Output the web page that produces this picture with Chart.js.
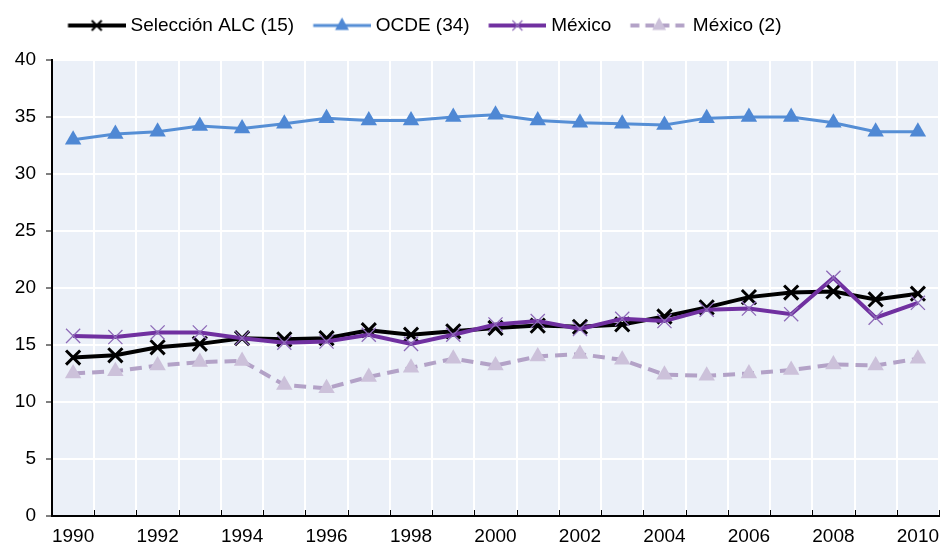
<!DOCTYPE html>
<html><head><meta charset="utf-8">
<script src="https://cdn.jsdelivr.net/npm/chart.js@4/dist/chart.umd.min.js"></script>
<style>html,body{margin:0;padding:0;background:#fff}</style>
</head><body>
<canvas id="c" width="941" height="546"></canvas>
<script>
const years = ['1990','1991','1992','1993','1994','1995','1996','1997','1998','1999','2000','2001','2002','2003','2004','2005','2006','2007','2008','2009','2010'];
const seleccionALC = [13.9,14.1,14.8,15.1,15.6,15.5,15.6,16.3,15.9,16.2,16.5,16.7,16.6,16.8,17.5,18.3,19.2,19.6,19.7,19.0,19.5];
const ocde = [33.0,33.5,33.7,34.2,34.0,34.4,34.9,34.7,34.7,35.0,35.2,34.7,34.5,34.4,34.3,34.9,35.0,35.0,34.5,33.7,33.7];
const mexico = [15.8,15.7,16.1,16.1,15.6,15.2,15.3,15.9,15.1,15.9,16.8,17.1,16.4,17.3,17.1,18.1,18.2,17.7,20.9,17.4,18.7];
const mexico2 = [12.5,12.7,13.2,13.5,13.6,11.5,11.2,12.2,13.0,13.8,13.2,14.0,14.2,13.7,12.4,12.3,12.5,12.8,13.3,13.2,13.8];
const yTicks = [0,5,10,15,20,25,30,35,40];
const seriesNames = ['Selección ALC (15)','OCDE (34)','México','México (2)'];

const FONT = "'Liberation Sans', Arial, sans-serif";

function legendIcon(lineColor, lineWidth, dash, marker, markerColor, markerBorder) {
  const cv = document.createElement('canvas');
  cv.width = 67; cv.height = 18;
  const ctx = cv.getContext('2d');
  const y = 9;
  ctx.strokeStyle = lineColor; ctx.lineWidth = lineWidth; ctx.setLineDash(dash);
  ctx.beginPath(); ctx.moveTo(9.5, y); ctx.lineTo(67, y); ctx.stroke();
  ctx.setLineDash([]);
  const cx = 38.25;
  if (marker === 'x') {
    const r = 5;
    ctx.strokeStyle = markerColor; ctx.lineWidth = markerBorder;
    ctx.beginPath();
    ctx.moveTo(cx - r, y - r); ctx.lineTo(cx + r, y + r);
    ctx.moveTo(cx + r, y - r); ctx.lineTo(cx - r, y + r);
    ctx.stroke();
  } else {
    const r = 8;
    ctx.fillStyle = markerColor;
    ctx.beginPath();
    ctx.moveTo(cx, y - r);
    ctx.lineTo(cx + r * 0.866, y + r * 0.5 + 0.5);
    ctx.lineTo(cx - r * 0.866, y + r * 0.5 + 0.5);
    ctx.closePath(); ctx.fill();
  }
  return cv;
}

const icons = [
  legendIcon('#000000', 4, [], 'x', '#000000', 2),
  legendIcon('#558ED5', 3, [], 'tri', '#4F88D4', 0),
  legendIcon('#7030A0', 4, [], 'x', '#8E6BB8', 1.2),
  legendIcon('#B3A2C7', 4, [9, 6], 'tri', '#CCC1DA', 0)
];

const bgPlugin = {
  id: 'bg',
  beforeDraw(chart) {
    const a = chart.chartArea, ctx = chart.ctx;
    ctx.save(); ctx.fillStyle = '#EBF0F8';
    ctx.fillRect(a.left, a.top, a.right - a.left, a.bottom - a.top);
    ctx.restore();
  },
  afterLayout(chart) {
    const lg = chart.legend;
    if (lg) { lg.left = 49; }
  },
  afterDraw(chart) {
    const xs = chart.scales.x, ctx = chart.ctx;
    const step = xs.getPixelForTick(1) - xs.getPixelForTick(0);
    ctx.save(); ctx.strokeStyle = '#000'; ctx.lineWidth = 1;
    for (let i = 0; i <= years.length; i++) {
      const x = Math.round(xs.getPixelForTick(0) - step / 2 + i * step) + 0.5;
      ctx.beginPath(); ctx.moveTo(x, xs.top); ctx.lineTo(x, xs.top - 6); ctx.stroke();
    }
    ctx.restore();
  }
};

new Chart(document.getElementById('c'), {
  type: 'line',
  data: {
    labels: years,
    datasets: [
      { label: seriesNames[0], data: seleccionALC, borderColor: '#000000', borderWidth: 4,
        pointStyle: 'crossRot', pointRadius: 10, pointBorderWidth: 3, pointBorderColor: '#000000',
        pointBackgroundColor: '#000000', order: 1 },
      { label: seriesNames[1], data: ocde, borderColor: '#558ED5', borderWidth: 3,
        pointStyle: 'triangle', pointRadius: 9.5, pointBorderWidth: 0, pointBackgroundColor: '#4F88D4',
        pointBorderColor: '#4F88D4', order: 2 },
      { label: seriesNames[2], data: mexico, borderColor: '#7030A0', borderWidth: 4,
        pointStyle: 'crossRot', pointRadius: 10, pointBorderWidth: 1.3, pointBorderColor: '#8E6BB8',
        pointBackgroundColor: '#8E6BB8', order: 0 },
      { label: seriesNames[3], data: mexico2, borderColor: '#B3A2C7', borderWidth: 4, borderDash: [12, 7],
        pointStyle: 'triangle', pointRadius: 9.5, pointBorderWidth: 0, pointBackgroundColor: '#CCC1DA',
        pointBorderColor: '#CCC1DA', order: 3 }
    ]
  },
  options: {
    responsive: false,
    animation: false,
    devicePixelRatio: 1,
    layout: { autoPadding: false, padding: { left: 0, right: 2, top: 2, bottom: 0 } },
    elements: { line: { tension: 0, fill: false } },
    plugins: {
      tooltip: { enabled: false },
      title: { display: true, text: ' ', weight: 500, position: 'top', font: { size: 1, lineHeight: 1 }, padding: 7 },
      legend: {
        position: 'top', align: 'start',
        labels: {
          usePointStyle: true, pointStyleWidth: 58, padding: 14,
          color: '#000', font: { family: FONT, size: 19 },
          generateLabels(chart) {
            return chart.data.datasets.map((ds, i) => ({
              text: ds.label, pointStyle: icons[i], datasetIndex: i,
              fillStyle: 'transparent', strokeStyle: 'transparent', lineWidth: 0, hidden: false, fontColor: '#000'
            }));
          }
        }
      }
    },
    scales: {
      x: {
        offset: true,
        afterFit(s) { s.height = 30; s.paddingLeft = 0; s.paddingRight = 0; },
        grid: { offset: true, color: '#FFFFFF', lineWidth: 2, drawTicks: true, tickLength: 11, tickColor: 'rgba(0,0,0,0)' },
        border: { color: '#000', width: 2 },
        ticks: {
          autoSkip: false, maxRotation: 0, padding: 0, color: '#000',
          font: { family: FONT, size: 19, lineHeight: 1 },
          callback(v, i) { return i % 2 === 0 ? years[i] : ''; }
        }
      },
      y: {
        min: yTicks[0], max: yTicks[yTicks.length - 1],
        afterBuildTicks(s) { s.ticks = yTicks.map(v => ({ value: v })); },
        afterFit(s) { s.width = 52; },
        grid: { color: '#FFFFFF', lineWidth: 2, tickColor: '#000', tickLength: 6, tickWidth: 1 },
        border: { color: '#000', width: 2 },
        ticks: { padding: 10, color: '#000', font: { family: FONT, size: 19, lineHeight: 1 } }
      }
    }
  },
  plugins: [bgPlugin]
});
</script>
</body></html>
